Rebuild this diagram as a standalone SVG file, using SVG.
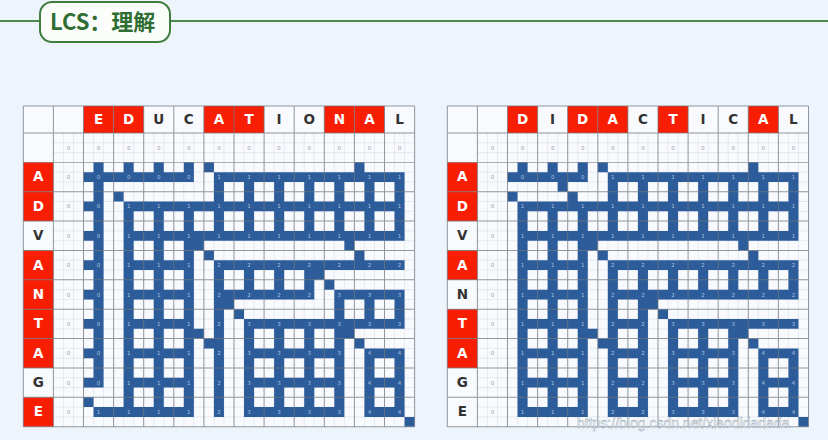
<svg xmlns="http://www.w3.org/2000/svg" width="828" height="440" viewBox="0 0 828 440">
<style>
.cellbg{fill:#f8fafd}
.red{fill:#f81e04}
.sub{fill:none;stroke:#d2d9e4;stroke-width:0.5}
.bor{fill:none;stroke:#6f757f;stroke-width:1;stroke-opacity:0.75}
.blue{fill:#2d5c9a}
.hr{font-family:"DejaVu Sans",sans-serif;font-weight:bold;font-size:13.5px;fill:#ffffff;text-anchor:middle;dominant-baseline:central}
.hk{font-family:"DejaVu Sans",sans-serif;font-weight:bold;font-size:13.5px;fill:#333333;text-anchor:middle;dominant-baseline:central}
.z{font-family:"DejaVu Sans",sans-serif;font-size:5.5px;fill:#9aa1aa;text-anchor:middle;dominant-baseline:central}
.v{font-family:"DejaVu Sans",sans-serif;font-size:5.5px;fill:#a9c2e3;text-anchor:middle;dominant-baseline:central}
</style>
<rect x="0" y="0" width="828" height="440" fill="#eef4fb"/>
<g id="title">
<line x1="0" y1="21" x2="828" y2="21" stroke="#4e8a4e" stroke-width="2"/>
<rect x="40" y="2" width="130" height="40" rx="12" fill="#fbfdfb" stroke="#3f7d3f" stroke-width="2"/>
<text x="50" y="30" font-family="Noto Sans CJK SC, sans-serif" font-weight="bold" font-size="22" fill="#2f6e33">LCS：理解</text>
</g>
<g id="table-left" transform="translate(23.3,133) scale(1.0033,0.979)">
<rect class="cellbg" x="0" y="-27.6" width="390" height="327.6"/>
<g id="left-headers-fill">
<rect class="red" x="60" y="-27.6" width="30" height="27.6"/>
<rect class="red" x="90" y="-27.6" width="30" height="27.6"/>
<rect class="red" x="180" y="-27.6" width="30" height="27.6"/>
<rect class="red" x="210" y="-27.6" width="30" height="27.6"/>
<rect class="red" x="300" y="-27.6" width="30" height="27.6"/>
<rect class="red" x="330" y="-27.6" width="30" height="27.6"/>
<rect class="red" x="0" y="30" width="30" height="30"/>
<rect class="red" x="0" y="60" width="30" height="30"/>
<rect class="red" x="0" y="120" width="30" height="30"/>
<rect class="red" x="0" y="150" width="30" height="30"/>
<rect class="red" x="0" y="180" width="30" height="30"/>
<rect class="red" x="0" y="210" width="30" height="30"/>
<rect class="red" x="0" y="270" width="30" height="30"/>
</g>
<path class="sub" d="M40 0V300M50 0V300M70 0V300M80 0V300M100 0V300M110 0V300M130 0V300M140 0V300M160 0V300M170 0V300M190 0V300M200 0V300M220 0V300M230 0V300M250 0V300M260 0V300M280 0V300M290 0V300M310 0V300M320 0V300M340 0V300M350 0V300M370 0V300M380 0V300M30 10H390M30 20H390M30 40H390M30 50H390M30 70H390M30 80H390M30 100H390M30 110H390M30 130H390M30 140H390M30 160H390M30 170H390M30 190H390M30 200H390M30 220H390M30 230H390M30 250H390M30 260H390M30 280H390M30 290H390"/>
<g id="paths-left">
<path class="blue" d="M60 40h110v10h-110zM190 40h190v10h-190zM60 70h20v10h-20zM100 70h280v10h-280zM60 100h20v10h-20zM100 100h280v10h-280zM60 130h20v10h-20zM100 130h70v10h-70zM190 130h190v10h-190zM60 160h20v10h-20zM100 160h70v10h-70zM190 160h100v10h-100zM310 160h70v10h-70zM60 190h20v10h-20zM100 190h70v10h-70zM190 190h10v10h-10zM220 190h160v10h-160zM60 220h20v10h-20zM100 220h70v10h-70zM190 220h10v10h-10zM220 220h100v10h-100zM340 220h40v10h-40zM60 250h20v10h-20zM100 250h70v10h-70zM190 250h10v10h-10zM220 250h100v10h-100zM340 250h40v10h-40zM70 280h100v10h-100zM190 280h10v10h-10zM220 280h100v10h-100zM340 280h40v10h-40z
M70 30h10v230h-10zM100 30h10v20h-10zM100 70h10v220h-10zM130 30h10v20h-10zM130 70h10v220h-10zM160 30h10v20h-10zM160 70h10v220h-10zM190 40h10v70h-10zM190 130h10v160h-10zM220 40h10v70h-10zM220 130h10v40h-10zM220 190h10v100h-10zM250 40h10v70h-10zM250 130h10v40h-10zM250 190h10v100h-10zM280 40h10v70h-10zM280 130h10v40h-10zM280 190h10v100h-10zM310 40h10v70h-10zM310 160h10v130h-10zM340 40h10v70h-10zM340 160h10v40h-10zM340 220h10v70h-10zM370 40h10v70h-10zM370 160h10v40h-10zM370 220h10v70h-10z
M180 30h10v10h-10zM330 30h10v10h-10zM90 60h10v10h-10zM180 120h10v10h-10zM330 120h10v10h-10zM300 150h10v10h-10zM210 180h10v10h-10zM180 210h10v10h-10zM330 210h10v10h-10zM60 270h10v10h-10z
M170 110h10v10h-10zM320 110h10v10h-10zM290 140h10v10h-10zM200 170h10v10h-10zM170 200h10v10h-10zM320 200h10v10h-10zM380 290h10v10h-10z"/>
</g>
<path class="bor" d="M0 -27.6V300M30 -27.6V300M60 -27.6V300M90 -27.6V300M120 -27.6V300M150 -27.6V300M180 -27.6V300M210 -27.6V300M240 -27.6V300M270 -27.6V300M300 -27.6V300M330 -27.6V300M360 -27.6V300M390 -27.6V300M0 -27.6H390M0 0H390M0 30H390M0 60H390M0 90H390M0 120H390M0 150H390M0 180H390M0 210H390M0 240H390M0 270H390M0 300H390"/>
<g id="left-col-letters">
<text class="hr" x="75" y="-13.8">E</text>
<text class="hr" x="105" y="-13.8">D</text>
<text class="hk" x="135" y="-13.8">U</text>
<text class="hk" x="165" y="-13.8">C</text>
<text class="hr" x="195" y="-13.8">A</text>
<text class="hr" x="225" y="-13.8">T</text>
<text class="hk" x="255" y="-13.8">I</text>
<text class="hk" x="285" y="-13.8">O</text>
<text class="hr" x="315" y="-13.8">N</text>
<text class="hr" x="345" y="-13.8">A</text>
<text class="hk" x="375" y="-13.8">L</text>
</g>
<g id="left-row-letters">
<text class="hr" x="15" y="45">A</text>
<text class="hr" x="15" y="75">D</text>
<text class="hk" x="15" y="105">V</text>
<text class="hr" x="15" y="135">A</text>
<text class="hr" x="15" y="165">N</text>
<text class="hr" x="15" y="195">T</text>
<text class="hr" x="15" y="225">A</text>
<text class="hk" x="15" y="255">G</text>
<text class="hr" x="15" y="285">E</text>
</g>
<g id="left-values">
<text class="z" x="45 75 105 135 165 195 225 255 285 315 345 375" y="15">000000000000</text>
<text class="z" x="45 45 45 45 45 45 45 45 45" y="45 75 105 135 165 195 225 255 285">000000000</text>
<text class="v" x="75 105 135 165 195 225 255 285 315 345 375" y="45">00001111111</text>
<text class="v" x="75 105 135 165 195 225 255 285 315 345 375" y="75">01111111111</text>
<text class="v" x="75 105 135 165 195 225 255 285 315 345 375" y="105">01111111111</text>
<text class="v" x="75 105 135 165 195 225 255 285 315 345 375" y="135">01112222222</text>
<text class="v" x="75 105 135 165 195 225 255 285 315 345 375" y="165">01112222333</text>
<text class="v" x="75 105 135 165 195 225 255 285 315 345 375" y="195">01112333333</text>
<text class="v" x="75 105 135 165 195 225 255 285 315 345 375" y="225">01112333344</text>
<text class="v" x="75 105 135 165 195 225 255 285 315 345 375" y="255">01112333344</text>
<text class="v" x="75 105 135 165 195 225 255 285 315 345 375" y="285">11112333344</text>
</g>
</g>
<g id="table-right" transform="translate(447.3,133) scale(1.0033,0.979)">
<rect class="cellbg" x="0" y="-27.6" width="360" height="327.6"/>
<g id="right-headers-fill">
<rect class="red" x="60" y="-27.6" width="30" height="27.6"/>
<rect class="red" x="120" y="-27.6" width="30" height="27.6"/>
<rect class="red" x="150" y="-27.6" width="30" height="27.6"/>
<rect class="red" x="210" y="-27.6" width="30" height="27.6"/>
<rect class="red" x="300" y="-27.6" width="30" height="27.6"/>
<rect class="red" x="0" y="30" width="30" height="30"/>
<rect class="red" x="0" y="60" width="30" height="30"/>
<rect class="red" x="0" y="120" width="30" height="30"/>
<rect class="red" x="0" y="180" width="30" height="30"/>
<rect class="red" x="0" y="210" width="30" height="30"/>
</g>
<path class="sub" d="M40 0V300M50 0V300M70 0V300M80 0V300M100 0V300M110 0V300M130 0V300M140 0V300M160 0V300M170 0V300M190 0V300M200 0V300M220 0V300M230 0V300M250 0V300M260 0V300M280 0V300M290 0V300M310 0V300M320 0V300M340 0V300M350 0V300M30 10H360M30 20H360M30 40H360M30 50H360M30 70H360M30 80H360M30 100H360M30 110H360M30 130H360M30 140H360M30 160H360M30 170H360M30 190H360M30 200H360M30 220H360M30 230H360M30 250H360M30 260H360M30 280H360M30 290H360"/>
<g id="paths-right">
<path class="blue" d="M60 40h80v10h-80zM160 40h190v10h-190zM70 70h280v10h-280zM70 100h280v10h-280zM70 130h70v10h-70zM160 130h190v10h-190zM70 160h70v10h-70zM160 160h190v10h-190zM70 190h70v10h-70zM160 190h40v10h-40zM220 190h130v10h-130zM70 220h70v10h-70zM160 220h40v10h-40zM220 220h70v10h-70zM310 220h40v10h-40zM70 250h70v10h-70zM160 250h40v10h-40zM220 250h70v10h-70zM310 250h40v10h-40zM70 280h70v10h-70zM160 280h40v10h-40zM220 280h70v10h-70zM310 280h40v10h-40z
M70 30h10v20h-10zM70 70h10v220h-10zM100 30h10v20h-10zM100 70h10v220h-10zM130 30h10v20h-10zM130 70h10v220h-10zM160 40h10v70h-10zM160 130h10v160h-10zM190 40h10v70h-10zM190 130h10v160h-10zM220 40h10v70h-10zM220 130h10v40h-10zM220 190h10v100h-10zM250 40h10v70h-10zM250 130h10v40h-10zM250 190h10v100h-10zM280 40h10v70h-10zM280 130h10v40h-10zM280 190h10v100h-10zM310 40h10v70h-10zM310 130h10v40h-10zM310 220h10v70h-10zM340 40h10v70h-10zM340 130h10v40h-10zM340 220h10v70h-10z
M150 30h10v10h-10zM300 30h10v10h-10zM60 60h10v10h-10zM120 60h10v10h-10zM150 120h10v10h-10zM300 120h10v10h-10zM210 180h10v10h-10zM150 210h10v10h-10zM300 210h10v10h-10z
M110 50h10v10h-10zM140 110h10v10h-10zM290 110h10v10h-10zM200 170h10v10h-10zM140 200h10v10h-10zM290 200h10v10h-10zM350 290h10v10h-10z"/>
</g>
<path class="bor" d="M0 -27.6V300M30 -27.6V300M60 -27.6V300M90 -27.6V300M120 -27.6V300M150 -27.6V300M180 -27.6V300M210 -27.6V300M240 -27.6V300M270 -27.6V300M300 -27.6V300M330 -27.6V300M360 -27.6V300M0 -27.6H360M0 0H360M0 30H360M0 60H360M0 90H360M0 120H360M0 150H360M0 180H360M0 210H360M0 240H360M0 270H360M0 300H360"/>
<g id="right-col-letters">
<text class="hr" x="75" y="-13.8">D</text>
<text class="hk" x="105" y="-13.8">I</text>
<text class="hr" x="135" y="-13.8">D</text>
<text class="hr" x="165" y="-13.8">A</text>
<text class="hk" x="195" y="-13.8">C</text>
<text class="hr" x="225" y="-13.8">T</text>
<text class="hk" x="255" y="-13.8">I</text>
<text class="hk" x="285" y="-13.8">C</text>
<text class="hr" x="315" y="-13.8">A</text>
<text class="hk" x="345" y="-13.8">L</text>
</g>
<g id="right-row-letters">
<text class="hr" x="15" y="45">A</text>
<text class="hr" x="15" y="75">D</text>
<text class="hk" x="15" y="105">V</text>
<text class="hr" x="15" y="135">A</text>
<text class="hk" x="15" y="165">N</text>
<text class="hr" x="15" y="195">T</text>
<text class="hr" x="15" y="225">A</text>
<text class="hk" x="15" y="255">G</text>
<text class="hk" x="15" y="285">E</text>
</g>
<g id="right-values">
<text class="z" x="45 75 105 135 165 195 225 255 285 315 345" y="15">00000000000</text>
<text class="z" x="45 45 45 45 45 45 45 45 45" y="45 75 105 135 165 195 225 255 285">000000000</text>
<text class="v" x="75 105 135 165 195 225 255 285 315 345" y="45">0001111111</text>
<text class="v" x="75 105 135 165 195 225 255 285 315 345" y="75">1111111111</text>
<text class="v" x="75 105 135 165 195 225 255 285 315 345" y="105">1111111111</text>
<text class="v" x="75 105 135 165 195 225 255 285 315 345" y="135">1112222222</text>
<text class="v" x="75 105 135 165 195 225 255 285 315 345" y="165">1112222222</text>
<text class="v" x="75 105 135 165 195 225 255 285 315 345" y="195">1112233333</text>
<text class="v" x="75 105 135 165 195 225 255 285 315 345" y="225">1112233344</text>
<text class="v" x="75 105 135 165 195 225 255 285 315 345" y="255">1112233344</text>
<text class="v" x="75 105 135 165 195 225 255 285 315 345" y="285">1112233344</text>
</g>
</g>
<text x="577" y="428" font-family="Liberation Sans, sans-serif" font-size="14" fill="#ffffff" fill-opacity="0.85" stroke="#8a9aaa" stroke-width="0.4">https://blog.csdn.net/xiaodidadada</text>
</svg>
